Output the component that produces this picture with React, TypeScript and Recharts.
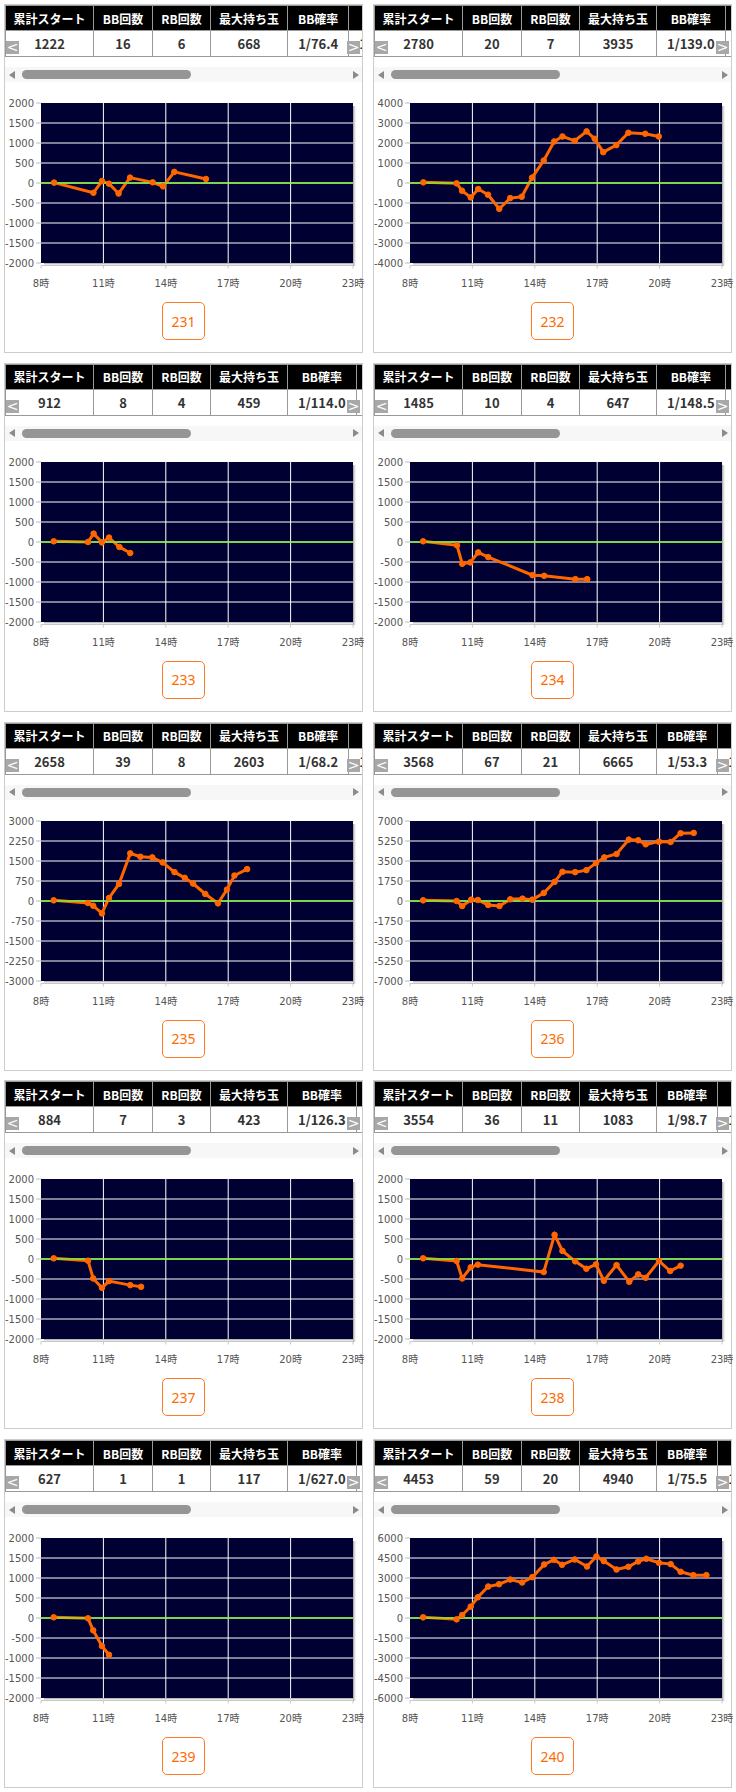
import { LineChart, Line, XAxis, YAxis, CartesianGrid, ReferenceLine } from 'recharts';

// 台番号と表の値
const machineNos = [231, 232, 233, 234, 235, 236, 237, 238, 239, 240];
const headers = ['累計スタート', 'BB回数', 'RB回数', '最大持ち玉', 'BB確率', 'RB確率'];
const totalStarts = [1222, 2780, 912, 1485, 2658, 3568, 884, 3554, 627, 4453];
const bbCounts = [16, 20, 8, 10, 39, 67, 7, 36, 1, 59];
const rbCounts = [6, 7, 4, 4, 8, 21, 3, 11, 1, 20];
const maxBalls = [668, 3935, 459, 647, 2603, 6665, 423, 1083, 117, 4940];
const bbRates = ['1/76.4', '1/139.0', '1/114.0', '1/148.5', '1/68.2', '1/53.3', '1/126.3', '1/98.7', '1/627.0', '1/75.5'];
const rbRates = ['1/203.7', '1/397.1', '1/228.0', '1/371.3', '1/332.3', '1/169.9', '1/294.7', '1/323.1', '1/627.0', '1/222.7'];

// 軸の目盛り
const hourTicks = [8, 11, 14, 17, 20, 23];
const ticks2000 = [2000, 1500, 1000, 500, 0, -500, -1000, -1500, -2000];
const ticks3000 = [3000, 2250, 1500, 750, 0, -750, -1500, -2250, -3000];
const ticks4000 = [4000, 3000, 2000, 1000, 0, -1000, -2000, -3000, -4000];
const ticks6000 = [6000, 4500, 3000, 1500, 0, -1500, -3000, -4500, -6000];
const ticks7000 = [7000, 5250, 3500, 1750, 0, -1750, -3500, -5250, -7000];

// 差玉グラフ（時刻, 差枚）
const hours231 = [8.63, 10.52, 10.93, 11.27, 11.73, 12.28, 13.37, 13.87, 14.41, 15.93];
const diff231 = [10, -245, 50, -17, -262, 135, 17, -84, 278, 101];
const hours232 = [8.64, 10.24, 10.5, 10.92, 11.28, 11.75, 12.29, 12.82, 13.37, 13.87, 14.43, 14.93, 15.33, 15.92, 16.49, 16.88, 17.29, 17.92, 18.5, 19.31, 19.96];
const diff232 = [33, -17, -385, -720, -302, -586, -1290, -754, -687, 268, 1122, 2077, 2328, 2110, 2580, 2211, 1541, 1893, 2513, 2462, 2328];
const hours233 = [8.61, 10.26, 10.53, 10.93, 11.27, 11.77, 12.29];
const diff233 = [17, 0, 210, -10, 110, -125, -276];
const hours234 = [8.63, 10.26, 10.51, 10.9, 11.28, 11.76, 13.89, 14.45, 15.95, 16.52];
const diff234 = [17, -84, -544, -510, -260, -377, -829, -845, -929, -929];
const hours235 = [8.61, 10.26, 10.51, 10.93, 11.27, 11.75, 12.29, 12.78, 13.35, 13.85, 14.42, 14.91, 15.31, 15.9, 16.51, 16.94, 17.3, 17.91];
const diff235 = [25, -75, -176, -465, 113, 640, 1785, 1660, 1635, 1447, 1082, 868, 654, 264, -88, 428, 956, 1195];
const hours236 = [8.63, 10.24, 10.51, 10.94, 11.26, 11.76, 12.3, 12.82, 13.41, 13.88, 14.43, 14.95, 15.33, 15.94, 16.48, 16.94, 17.34, 17.93, 18.52, 18.97, 19.33, 19.97, 20.53, 21.01, 21.64];
const diff236 = [59, 0, -440, 117, 88, -352, -440, 147, 205, 117, 704, 1673, 2553, 2524, 2700, 3316, 3815, 4109, 5371, 5313, 4960, 5195, 5166, 5929, 5958];
const hours237 = [8.61, 10.26, 10.51, 10.93, 11.27, 12.29, 12.81];
const diff237 = [17, -42, -485, -720, -552, -653, -695];
const hours238 = [8.63, 10.24, 10.51, 10.92, 11.26, 14.43, 14.95, 15.33, 15.94, 16.48, 16.94, 17.32, 17.93, 18.54, 18.97, 19.33, 19.97, 20.51, 21.01];
const diff238 = [17, -50, -485, -209, -142, -326, 603, 201, -59, -243, -134, -544, -151, -569, -385, -469, -50, -301, -167];
const hours239 = [8.61, 10.26, 10.51, 10.93, 11.27];
const diff239 = [17, -8, -309, -702, -920];
const hours240 = [8.63, 10.24, 10.51, 10.92, 11.26, 11.76, 12.28, 12.82, 13.39, 13.88, 14.45, 14.92, 15.31, 15.92, 16.51, 16.96, 17.32, 17.93, 18.5, 18.97, 19.36, 19.97, 20.53, 21.01, 21.62, 22.25];
const diff240 = [50, -100, 226, 853, 1556, 2360, 2535, 2886, 2661, 3062, 4016, 4367, 3991, 4392, 3865, 4618, 4267, 3639, 3840, 4242, 4443, 4141, 4041, 3464, 3213, 3213];

const hoursList = [hours231, hours232, hours233, hours234, hours235, hours236, hours237, hours238, hours239, hours240];
const diffList = [diff231, diff232, diff233, diff234, diff235, diff236, diff237, diff238, diff239, diff240];
const yTickList = [ticks2000, ticks4000, ticks2000, ticks2000, ticks3000, ticks7000, ticks2000, ticks2000, ticks2000, ticks6000];

const PANEL_W = 357;
const PLOT_W = 312;
const PLOT_H = 160;
const LABEL_FONT = '"DejaVu Sans", "Noto Sans CJK JP", sans-serif';

const HourTick = (props: any) => {
  const { x, y, payload, index } = props;
  return (
    <g>
      {index === 0 && (
        <g>
          <defs>
            <linearGradient id="shadowR" x1="0" y1="0" x2="1" y2="0">
              <stop offset="0" stopColor="#9a9a9a" />
              <stop offset="1" stopColor="#ffffff" stopOpacity={0} />
            </linearGradient>
            <linearGradient id="shadowB" x1="0" y1="0" x2="0" y2="1">
              <stop offset="0" stopColor="#9a9a9a" />
              <stop offset="1" stopColor="#ffffff" stopOpacity={0} />
            </linearGradient>
          </defs>
          <rect x={x + PLOT_W} y={y - PLOT_H + 3} width={4} height={PLOT_H} fill="url(#shadowR)" />
          <rect x={x + 3} y={y} width={PLOT_W - 3} height={3} fill="url(#shadowB)" />
          <line x1={x} x2={x + PLOT_W} y1={y + 2.5} y2={y + 2.5} stroke="#c8c8c8" />
        </g>
      )}
      <line x1={x} x2={x} y1={y + 2.5} y2={y + 5.5} stroke="#c8c8c8" />
      <text x={x} y={y + 20} textAnchor="middle" dominantBaseline="central" fontSize={10} fill="#555" fontFamily={LABEL_FONT}>
        {payload.value}時
      </text>
    </g>
  );
};

const cellBase = {
  border: '1px solid #999',
  textAlign: 'center' as const,
  whiteSpace: 'nowrap' as const,
  boxSizing: 'border-box' as const,
};
// 列幅（最初の4列は固定、残りは中身に合わせる）
const colWidths: (number | undefined)[] = [88, 59, 58, 77, undefined, undefined];

const Panel = ({ i, left, top }: { i: number; left: number; top: number }) => {
  const data = hoursList[i].map((h, k) => ({ h, v: diffList[i][k] }));
  const yTicks = yTickList[i];
  const yMax = yTicks[0];
  const values = [totalStarts[i], bbCounts[i], rbCounts[i], maxBalls[i], bbRates[i], rbRates[i]];
  const pad = (k: number) => (colWidths[k] ? '0' : '0 10px');
  return (
    <div
      style={{
        position: 'absolute',
        left,
        top,
        width: PANEL_W,
        height: 347,
        border: '1px solid #cccccc',
        background: '#fff',
      }}
    >
      <div style={{ position: 'absolute', left: 0, top: 0, width: PANEL_W, height: 52, overflow: 'hidden' }}>
        <table style={{ borderCollapse: 'collapse', fontFamily: '"Noto Sans CJK JP", sans-serif' }}>
          <thead>
            <tr style={{ height: 25 }}>
              {headers.map((t, k) => (
                <th
                  key={t}
                  style={{
                    ...cellBase,
                    width: colWidths[k],
                    minWidth: colWidths[k],
                    padding: pad(k),
                    background: '#000',
                    color: '#fff',
                    fontSize: 12,
                    fontWeight: 700,
                  }}
                >
                  {t}
                </th>
              ))}
            </tr>
          </thead>
          <tbody>
            <tr style={{ height: 26 }}>
              {values.map((t, k) => (
                <td
                  key={k}
                  style={{ ...cellBase, width: colWidths[k], padding: pad(k), color: '#333', fontSize: 13, fontWeight: 700 }}
                >
                  {t}
                </td>
              ))}
            </tr>
          </tbody>
        </table>
        {[
          { ch: '<', x: 1 },
          { ch: '>', x: 342 },
        ].map((b) => (
          <div
            key={b.ch}
            style={{
              position: 'absolute',
              left: b.x,
              top: 36,
              width: 13,
              height: 13,
              background: '#a8a8a8',
              color: '#fff',
              fontFamily: LABEL_FONT,
              fontSize: 14,
              lineHeight: '13px',
              textAlign: 'center',
            }}
          >
            {b.ch}
          </div>
        ))}
      </div>
      <div style={{ position: 'absolute', left: 0, top: 62, width: PANEL_W, height: 15, background: '#f7f7f7' }}>
        <div
          style={{
            position: 'absolute',
            left: 4,
            top: 3.5,
            width: 0,
            height: 0,
            borderTop: '4px solid transparent',
            borderBottom: '4px solid transparent',
            borderRight: '6px solid #8a8a8a',
          }}
        />
        <div
          style={{ position: 'absolute', left: 17, top: 3, width: 169, height: 9, borderRadius: 5, background: '#959595' }}
        />
        <div
          style={{
            position: 'absolute',
            left: 348,
            top: 3.5,
            width: 0,
            height: 0,
            borderTop: '4px solid transparent',
            borderBottom: '4px solid transparent',
            borderLeft: '6px solid #8a8a8a',
          }}
        />
      </div>
      <div style={{ position: 'absolute', left: 0, top: 90 }}>
        <LineChart width={PANEL_W + 12} height={198} data={data} margin={{ top: 8, right: 21, bottom: 0, left: 0 }}>
          <CartesianGrid
            fill="#000033"
            fillOpacity={1}
            stroke="#ffffff"
            strokeWidth={1}
            verticalValues={hourTicks.slice(1, -1)}
            horizontalValues={yTicks.slice(1, -1)}
          />
          <XAxis
            type="number"
            dataKey="h"
            domain={[8, 23]}
            ticks={hourTicks}
            interval={0}
            axisLine={false}
            tickLine={false}
            tickSize={0}
            tickMargin={0}
            height={30}
            tick={HourTick}
          />
          <YAxis
            type="number"
            domain={[-yMax, yMax]}
            ticks={yTicks}
            interval={0}
            width={36}
            axisLine={false}
            tickLine={{ stroke: '#bbbbbb' }}
            tickSize={5}
            tickMargin={2}
            tick={{ fontSize: 10, fill: '#555', fontFamily: LABEL_FONT }}
          />
          <Line
            type="linear"
            dataKey="v"
            stroke="#ff6600"
            strokeWidth={3}
            dot={{ r: 2.8, fill: '#ff6600', stroke: '#ff6600', strokeWidth: 1 }}
            isAnimationActive={false}
          />
          <ReferenceLine y={0} stroke="#7cf03c" strokeWidth={2} strokeOpacity={0.75} />
        </LineChart>
      </div>
      <div
        style={{
          position: 'absolute',
          left: 157,
          top: 297,
          width: 43,
          height: 38,
          boxSizing: 'border-box',
          border: '1px solid #ff7a22',
          borderRadius: 5,
          color: '#ff6a00',
          fontFamily: '"Noto Sans", sans-serif',
          fontSize: 14,
          display: 'flex',
          alignItems: 'center',
          justifyContent: 'center',
        }}
      >
        {machineNos[i]}
      </div>
    </div>
  );
};

const App = () => {
  return (
    <div style={{ position: 'absolute', left: 0, top: 0, width: 736, height: 1792, background: '#fff' }}>
      {machineNos.map((no, i) => (
        <Panel key={no} i={i} left={i % 2 === 0 ? 4 : 373} top={4 + Math.floor(i / 2) * 358.75} />
      ))}
    </div>
  );
};

export default App;
